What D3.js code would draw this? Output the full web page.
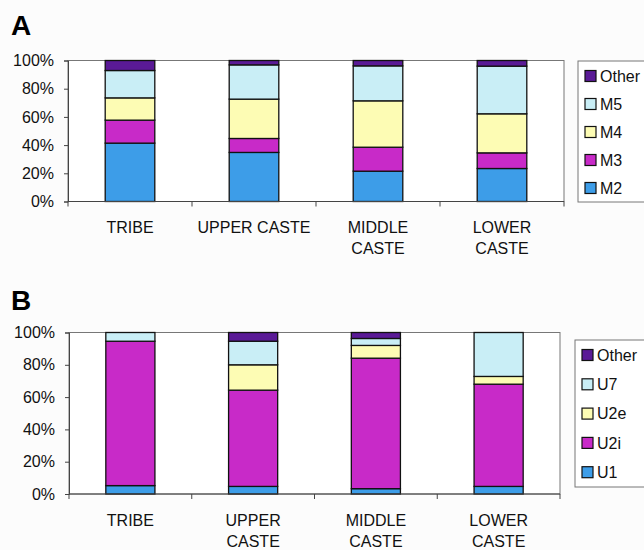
<!DOCTYPE html>
<html><head><meta charset="utf-8">
<script src="https://cdn.jsdelivr.net/npm/d3@7"></script>
<style>body{margin:0;background:#fcfcfc}svg{display:block}</style>
</head><body>
<svg id="c" width="644" height="550"></svg>
<script>
const categories = ["TRIBE", "UPPER CASTE", "MIDDLE CASTE", "LOWER CASTE"];
const labelsA = [["TRIBE"], ["UPPER CASTE"], ["MIDDLE", "CASTE"], ["LOWER", "CASTE"]];
const labelsB = [["TRIBE"], ["UPPER", "CASTE"], ["MIDDLE", "CASTE"], ["LOWER", "CASTE"]];
const seriesA = ["M2", "M3", "M4", "M5", "Other"];
const M2 = [41.4, 34.8, 21.5, 23.4];
const M3 = [16.3, 9.9, 17.0, 11.1];
const M4 = [15.8, 27.9, 32.9, 27.7];
const M5 = [19.4, 24.3, 24.8, 33.8];
const OtherA = [7.1, 3.1, 3.8, 4.0];
const seriesB = ["U1", "U2i", "U2e", "U7", "Other"];
const U1 = [5.2, 4.7, 3.3, 4.7];
const U2i = [89.4, 59.6, 80.8, 63.3];
const U2e = [0, 15.7, 7.9, 4.8];
const U7 = [5.4, 14.6, 4.3, 27.2];
const OtherB = [0, 5.4, 3.7, 0];
const yTicks = [0, 20, 40, 60, 80, 100];
const colors = ["#3d9de8", "#c82ac8", "#fdfcb4", "#c9eef6", "#5a1a96"];

const svg = d3.select("#c");
const FONT = "'Liberation Sans', Arial, sans-serif";
const FS = 16;

function panel(cfg) {
  const g = svg.append("g");
  const rows = categories.map((c, i) => {
    const o = {cat: c};
    cfg.series.forEach((s, k) => o[s] = cfg.values[k][i]);
    return o;
  });
  const x = d3.scaleBand().domain(categories).range([cfg.x0, cfg.x1]).paddingInner(0.6).paddingOuter(0.3);
  const xb = d3.scaleBand().domain(categories).range([cfg.x0, cfg.x1]);
  const y = d3.scaleLinear().domain([0, 100]).range([cfg.yb, cfg.yt]);

  g.append("rect").attr("x", cfg.x0).attr("y", cfg.yt).attr("width", cfg.x1 - cfg.x0).attr("height", cfg.yb - cfg.yt)
    .attr("fill", "#ffffff").attr("stroke", "#777").attr("stroke-width", 1);

  const stack = d3.stack().keys(cfg.series)(rows);
  stack.forEach((layer, k) => {
    g.selectAll(null).data(layer.filter(d => d[1] - d[0] > 0)).enter().append("rect")
      .attr("x", d => x(d.data.cat))
      .attr("width", x.bandwidth())
      .attr("y", d => y(d[1]))
      .attr("height", d => y(d[0]) - y(d[1]))
      .attr("fill", colors[k]).attr("stroke", "#111").attr("stroke-width", 1.3);
  });

  const ya = g.append("g").attr("transform", `translate(${cfg.x0},0)`)
    .call(d3.axisLeft(y).tickValues(yTicks).tickFormat(d => d + "%").tickSize(4).tickPadding(10));
  ya.select(".domain").attr("stroke", "#444");
  ya.selectAll(".tick line").attr("stroke", "#444");
  ya.selectAll("text").attr("font-family", FONT).attr("font-size", FS).attr("fill", "#111");

  const xa = g.append("g").attr("transform", `translate(0,${cfg.yb})`);
  xa.append("line").attr("x1", cfg.x0).attr("x2", cfg.x1).attr("stroke", "#444");
  const bounds = categories.map(c => xb(c)).concat([cfg.x1]);
  xa.selectAll(null).data(bounds).enter().append("line")
    .attr("x1", d => d).attr("x2", d => d).attr("y1", 0).attr("y2", 5).attr("stroke", "#444");
  categories.forEach((c, i) => {
    const cx = xb(c) + xb.bandwidth() / 2;
    const t = g.append("text").attr("x", cx).attr("y", cfg.labY)
      .attr("text-anchor", "middle").attr("font-family", FONT).attr("font-size", FS).attr("fill", "#111");
    cfg.labels[i].forEach((ln, j) => t.append("tspan").attr("x", cx).attr("dy", j ? cfg.labStep : 0).text(ln));
  });

  g.append("text").attr("x", 11).attr("y", cfg.letterY).attr("font-family", FONT).attr("font-weight", "bold")
    .attr("font-size", 28).attr("fill", "#000").text(cfg.letter);

  g.append("rect").attr("x", cfg.lx).attr("y", cfg.ly).attr("width", 100).attr("height", cfg.lh)
    .attr("fill", "#fff").attr("stroke", "#777");
  const order = cfg.series.map((s, k) => ({s, k})).reverse();
  order.forEach((d, i) => {
    const cy = cfg.ly + cfg.lfirst + i * cfg.lstep;
    g.append("rect").attr("x", cfg.lx + 7).attr("y", cy - 5.5).attr("width", 11).attr("height", 11)
      .attr("fill", colors[d.k]).attr("stroke", "#111").attr("stroke-width", 1.2);
    g.append("text").attr("x", cfg.lx + 22).attr("y", cy + 5.8).attr("font-family", FONT)
      .attr("font-size", FS).attr("fill", "#111").text(d.s);
  });
}

panel({series: seriesA, values: [M2, M3, M4, M5, OtherA], labels: labelsA,
  x0: 68, x1: 564, yt: 60.5, yb: 201.5, labY: 233, labStep: 21, letter: "A", letterY: 35,
  lx: 578, ly: 61, lh: 141, lfirst: 15, lstep: 28});
panel({series: seriesB, values: [U1, U2i, U2e, U7, OtherB], labels: labelsB,
  x0: 69, x1: 560, yt: 332.5, yb: 494, labY: 525.5, labStep: 21, letter: "B", letterY: 310,
  lx: 575, ly: 340, lh: 147, lfirst: 15, lstep: 29.3});
</script>
</body></html>
